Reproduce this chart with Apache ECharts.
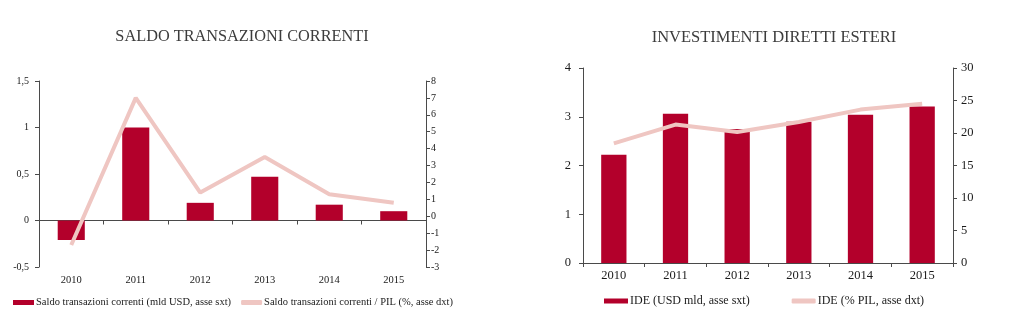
<!DOCTYPE html>
<html><head><meta charset="utf-8">
<script src="https://cdn.jsdelivr.net/npm/echarts@6/dist/echarts.min.js"></script>
<style>html,body{margin:0;padding:0;background:#fff}#c{width:1026px;height:329px}</style>
</head><body><div id="c"></div>
<script>
const years = ['2010','2011','2012','2013','2014','2015'];
const saldoUSD = [-0.21, 1.0, 0.19, 0.47, 0.17, 0.10];
const saldoPIL = [-1.7, 7.0, 1.4, 3.5, 1.3, 0.8];
const ideUSD = [2.22, 3.06, 2.75, 2.90, 3.04, 3.21];
const idePIL = [18.4, 21.3, 20.15, 21.7, 23.6, 24.5];
const titles = ['SALDO TRANSAZIONI CORRENTI', 'INVESTIMENTI DIRETTI ESTERI'];
const names = ['Saldo transazioni correnti (mld USD, asse sxt)', 'Saldo transazioni correnti / PIL (%, asse dxt)', 'IDE (USD mld, asse sxt)', 'IDE (% PIL, asse dxt)'];

const F = '"Liberation Serif", "DejaVu Serif", serif';
const BAR = '#b3002b', LINE = '#efc6c2', AX = '#4a4a4a', TX = '#1a1a1a';
const comma = v => String(v).replace('.', ',');
const axLine = {show: true, lineStyle: {color: AX, width: 1}};

const chart = echarts.init(document.getElementById('c'));
chart.setOption({
  animation: false,
  title: [
    {text: titles[0], left: 237, top: 24, textAlign: 'center', textStyle: {fontFamily: F, fontSize: 16.3, fontWeight: 'normal', color: '#3c3c3c'}},
    {text: titles[1], left: 769, top: 24, textAlign: 'center', textStyle: {fontFamily: F, fontSize: 16.5, fontWeight: 'normal', color: '#3c3c3c'}}
  ],
  grid: [
    {left: 39, right: 600, top: 81, bottom: 62},
    {left: 583, right: 73, top: 68, bottom: 66}
  ],
  legend: [
    {left: 8, top: 292, itemWidth: 21, itemHeight: 5, itemGap: 10, textStyle: {fontFamily: F, fontSize: 10.5, color: TX, padding: [0,0,0,-3]},
     data: [{name: names[0], icon: 'rect'}, {name: names[1], icon: 'roundRect'}]},
    {left: 599, top: 290, itemWidth: 24, itemHeight: 5, itemGap: 42, textStyle: {fontFamily: F, fontSize: 12, color: TX, padding: [0,0,0,-3]},
     data: [{name: names[2], icon: 'rect'}, {name: names[3], icon: 'roundRect'}]}
  ],
  xAxis: [
    {type: 'category', gridIndex: 0, data: years, axisLine: {onZero: true, lineStyle: {color: AX}}, axisTick: {show: true, length: 4, lineStyle: {color: AX}}, axisLabel: {show: false}},
    {type: 'category', gridIndex: 0, data: years, position: 'bottom', axisLine: {show: false, onZero: false}, axisTick: {show: false}, axisLabel: {fontFamily: F, fontSize: 10.5, color: TX, margin: 8}},
    {type: 'category', gridIndex: 1, data: years, axisLine: {lineStyle: {color: AX}}, axisTick: {show: true, length: 4, lineStyle: {color: AX}}, axisLabel: {fontFamily: F, fontSize: 12.5, color: TX, margin: 6}}
  ],
  yAxis: [
    {type: 'value', gridIndex: 0, min: -0.5, max: 1.5, interval: 0.5, axisLine: axLine, axisTick: {show: true, length: 4, lineStyle: {color: AX}}, splitLine: {show: false}, axisLabel: {formatter: comma, fontFamily: F, fontSize: 10, color: TX, margin: 10}},
    {type: 'value', gridIndex: 0, position: 'right', min: -3, max: 8, interval: 1, axisLine: axLine, axisTick: {show: true, length: 4, lineStyle: {color: AX}}, splitLine: {show: false}, axisLabel: {fontFamily: F, fontSize: 10, color: TX, margin: 5}},
    {type: 'value', gridIndex: 1, min: 0, max: 4, interval: 1, axisLine: axLine, axisTick: {show: true, length: 4, lineStyle: {color: AX}}, splitLine: {show: false}, axisLabel: {fontFamily: F, fontSize: 12.5, color: TX, margin: 12}},
    {type: 'value', gridIndex: 1, position: 'right', min: 0, max: 30, interval: 5, axisLine: axLine, axisTick: {show: true, length: 4, lineStyle: {color: AX}}, splitLine: {show: false}, axisLabel: {fontFamily: F, fontSize: 12.5, color: TX, margin: 8}}
  ],
  series: [
    {name: names[0], type: 'bar', xAxisIndex: 0, yAxisIndex: 0, data: saldoUSD, barWidth: '42%', itemStyle: {color: BAR}},
    {name: names[1], type: 'line', xAxisIndex: 0, yAxisIndex: 1, data: saldoPIL, symbol: 'none', lineStyle: {color: LINE, width: 4}, itemStyle: {color: LINE}},
    {name: names[2], type: 'bar', xAxisIndex: 2, yAxisIndex: 2, data: ideUSD, barWidth: '41%', itemStyle: {color: BAR}},
    {name: names[3], type: 'line', xAxisIndex: 2, yAxisIndex: 3, data: idePIL, symbol: 'none', lineStyle: {color: LINE, width: 4}, itemStyle: {color: LINE}}
  ]
});
</script></body></html>
